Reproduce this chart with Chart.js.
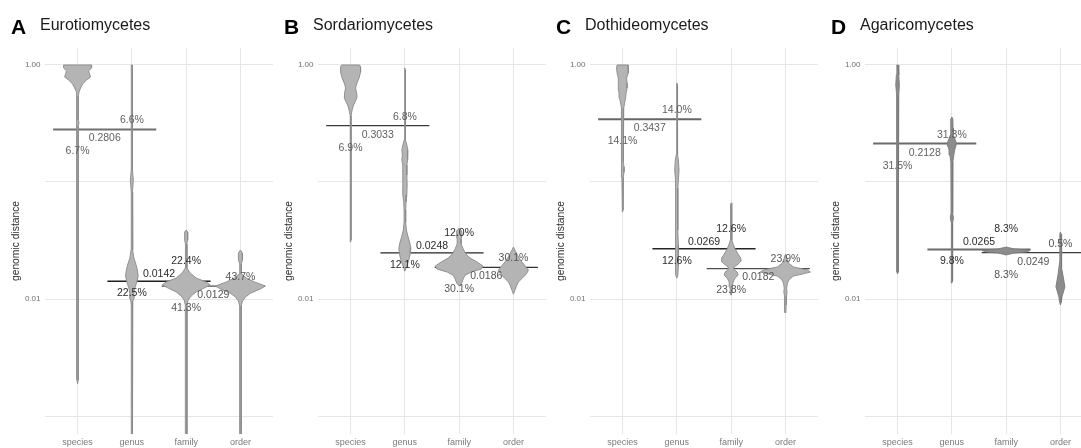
<!DOCTYPE html>
<html>
<head>
<meta charset="utf-8">
<script src="https://cdn.jsdelivr.net/npm/chart.js@4.4.1/dist/chart.umd.min.js"></script>
<style>
html, body { margin: 0; padding: 0; background: #fff; }
body { width: 1081px; height: 448px; overflow: hidden; position: relative; font-family: "Liberation Sans", Arial, sans-serif; }
.panel { position: absolute; top: 0; width: 273px; height: 448px; }
.panel canvas { position: absolute; left: 0; top: 0; }
.tag { position: absolute; left: 11px; top: 15.5px; font-size: 21px; line-height: 21px; font-weight: bold; color: #000; }
.ttl { position: absolute; left: 40px; top: 17px; font-size: 16px; line-height: 16px; color: #1a1a1a; white-space: nowrap; }
</style>
</head>
<body>
<script>
const FONT = '"Liberation Sans", Arial, sans-serif';

// Axis content
const categories = ['species', 'genus', 'family', 'order'];
const panelTags = ['A', 'B', 'C', 'D'];
const panelTitles = ['Eurotiomycetes', 'Sordariomycetes', 'Dothideomycetes', 'Agaricomycetes'];
const yTickValues = [0.001, 0.01, 0.1, 1];
const yTickLabels = ['', '0.01', '', '1.00'];

// Cut-off between neighbouring ranks + share of pairs on the wrong side
const cutoffsA = [0.2806, 0.0142, 0.0129];
const upperPctA = ['6.6%', '22.4%', '43.7%'];
const lowerPctA = ['6.7%', '22.5%', '41.3%'];
const cutoffsB = [0.3033, 0.0248, 0.0186];
const upperPctB = ['6.8%', '12.0%', '30.1%'];
const lowerPctB = ['6.9%', '12.1%', '30.1%'];
const cutoffsC = [0.3437, 0.0269, 0.0182];
const upperPctC = ['14.0%', '12.6%', '23.9%'];
const lowerPctC = ['14.1%', '12.6%', '23.8%'];
const cutoffsD = [0.2128, 0.0265, 0.0249];
const upperPctD = ['31.3%', '8.3%', '0.5%'];
const lowerPctD = ['31.5%', '9.8%', '8.3%'];

// Violin outlines: [genomic distance, relative half width], top to bottom
const speciesA = [[1.0,14],[0.943,14],[0.889,11],[0.838,12],[0.790,13],[0.744,9],[0.688,5],[0.636,3],[0.588,1.5],[0.543,0.7],[0.339,0.6],[0.319,1.5],[0.301,0.6],[0.00203,0.6],[0.00188,0]];
const genusA = [[1.0,0.6],[0.1266,0.6],[0.104,1.5],[0.0821,0.6],[0.0262,0.8],[0.0224,2],[0.0199,4],[0.0177,5.5],[0.0157,6.3],[0.0140,5],[0.0124,3],[0.0112,2],[0.0104,2.5],[0.0096,1],[0.0087,0.6],[0.0006,0.6]];
const familyA = [[0.0389,0],[0.0374,1.5],[0.0319,1.5],[0.0295,0.7],[0.0184,0.8],[0.0167,4],[0.0151,10],[0.0140,20],[0.0132,24],[0.0124,18],[0.0115,10],[0.0106,5],[0.0098,2],[0.0089,0.8],[0.0006,0.8]];
const orderA = [[0.0262,0],[0.0247,2],[0.0215,2],[0.0199,0.7],[0.0164,1],[0.0151,6],[0.0140,14],[0.0129,25],[0.0122,20],[0.0112,10],[0.0104,5],[0.0096,2],[0.0087,0.8],[0.0006,0.8]];

const speciesB = [[1.0,9],[0.961,10],[0.871,10],[0.774,8.5],[0.688,6],[0.636,5],[0.576,6],[0.533,6.5],[0.492,5],[0.455,3],[0.412,1.5],[0.367,0.5],[0.0319,0.5],[0.0307,0]];
const genusB = [[0.943,0],[0.906,0.5],[0.2286,0.6],[0.2071,2],[0.1877,3],[0.1701,2.5],[0.1542,3],[0.1398,2],[0.1148,2],[0.0943,2.3],[0.0774,2],[0.0675,1.2],[0.0576,0.8],[0.0455,0.8],[0.0389,1.5],[0.0346,3],[0.0301,5],[0.0273,6],[0.0247,5.5],[0.0224,4.5],[0.0203,3],[0.0188,1.5],[0.0173,0]];
const familyB = [[0.0404,0],[0.0381,2.5],[0.0352,3],[0.0326,2],[0.0295,2],[0.0268,4],[0.0242,7],[0.0224,11],[0.0207,18],[0.0191,24],[0.0180,22],[0.0170,12],[0.0160,6],[0.0148,4],[0.0137,2.5],[0.0129,0]];
const orderB = [[0.0278,0],[0.0262,1.5],[0.0238,4],[0.0215,7],[0.0195,11],[0.0177,15],[0.0164,13],[0.0151,9],[0.0140,5],[0.0129,3],[0.0119,1.5],[0.0110,0]];

const speciesC = [[1.0,5.5],[0.943,6],[0.854,5.5],[0.774,4],[0.702,4.5],[0.636,4.5],[0.576,3.5],[0.522,3],[0.473,2],[0.429,1.2],[0.374,0.7],[0.1483,0.7],[0.1343,1.5],[0.1217,1.5],[0.1103,0.7],[0.0576,0.5],[0.0554,0]];
const genusC = [[0.702,0],[0.675,0.6],[0.1701,0.7],[0.1542,1.5],[0.1266,2.2],[0.104,1.5],[0.0888,1],[0.0389,1],[0.0289,1.5],[0.0195,1.5],[0.0160,1],[0.0151,0]];
const familyC = [[0.0662,0],[0.0623,0.6],[0.0319,0.8],[0.0295,2],[0.0268,4],[0.0242,7],[0.0224,9.5],[0.0211,10],[0.0199,7],[0.0188,3],[0.0180,2.5],[0.0170,6],[0.0160,7],[0.0151,4],[0.0140,2],[0.0127,1.2],[0.0115,0.8],[0.0108,0]];
const orderC = [[0.0242,0],[0.0224,1.2],[0.0203,3],[0.0188,8],[0.0177,22],[0.0170,25],[0.0164,18],[0.0157,8],[0.0148,4],[0.0137,2],[0.0124,1.2],[0.0115,1.6],[0.0106,1.2],[0.0089,0.7],[0.0077,0.5],[0.0076,0]];

const speciesD = [[1.0,0.7],[0.821,1.2],[0.675,1.8],[0.554,1.2],[0.455,0.7],[0.0170,0.6],[0.0164,0]];
const genusD = [[0.3594,0],[0.3455,1],[0.2894,1.2],[0.2522,1.5],[0.2331,3],[0.2154,4.5],[0.2031,4],[0.1877,2.8],[0.1701,2],[0.1483,1],[0.0543,0.8],[0.0492,1.6],[0.0446,0.8],[0.01425,0.7],[0.0137,0]];
const familyD = [[0.0278,0],[0.0268,8],[0.0260,24],[0.0252,20],[0.0247,8],[0.0238,0]];
const orderD = [[0.0374,0],[0.0359,0.6],[0.0207,0.8],[0.0184,1.5],[0.0160,2.5],[0.01425,3.5],[0.0127,4.5],[0.0115,3],[0.0104,1.5],[0.0094,0.8],[0.0089,0]];

const panels = [
    { violins: [speciesA, genusA, familyA, orderA], cutoffs: cutoffsA, upper: upperPctA, lower: lowerPctA },
    { violins: [speciesB, genusB, familyB, orderB], cutoffs: cutoffsB, upper: upperPctB, lower: lowerPctB },
    { violins: [speciesC, genusC, familyC, orderC], cutoffs: cutoffsC, upper: upperPctC, lower: lowerPctC },
    { violins: [speciesD, genusD, familyD, orderD], cutoffs: cutoffsD, upper: upperPctD, lower: lowerPctD }
];

// Looks
const WIDTH_UNIT = 1 / 54.3;      // relative width -> category units
const CUT_OVERHANG = 0.45;        // cut-off segment runs past both ranks
const LABEL_OFFSETS = [
    { upper: -9, mid: 9, lower: 22 },
    { upper: -20, mid: -7, lower: 12 },
    { upper: -9, mid: 9, lower: 22 }
];
const LABEL_COLORS = ['#5f5f5f', '#2b2b2b', '#555555'];
const PANEL_STYLE = [
    { left: 0,   fill: '#b4b4b4', edge: '#8a8a8a', lineColors: ['#6f6f6f', '#1f1f1f', '#4d4d4d'], lineWidths: [2, 1.5, 1.2] },
    { left: 273, fill: '#b4b4b4', edge: '#8a8a8a', lineColors: ['#3a3a3a', '#262626', '#333333'], lineWidths: [1.2, 1.3, 1.2] },
    { left: 545, fill: '#b4b4b4', edge: '#8a8a8a', lineColors: ['#666666', '#262626', '#4d4d4d'], lineWidths: [2, 1.5, 1.2] },
    { left: 820, fill: '#8c8c8c', edge: '#7a7a7a', lineColors: ['#6b6b6b', '#6b6b6b', '#3d3d3d'], lineWidths: [2, 2, 1.2] }
];

Chart.defaults.font.family = FONT;

function violinPoints(profile, pos) {
    const right = profile.map(([v, w]) => ({ x: pos + w * WIDTH_UNIT, y: v }));
    const left = profile.slice().reverse().map(([v, w]) => ({ x: pos - w * WIDTH_UNIT, y: v }));
    return right.concat(left, [right[0]]);
}

// text next to each cut-off line
const cutoffLabels = {
    id: 'cutoffLabels',
    afterDatasetsDraw(chart, args, opts) {
        const { ctx, scales: { x, y } } = chart;
        ctx.save();
        ctx.font = '10.5px ' + FONT;
        ctx.textAlign = 'center';
        ctx.textBaseline = 'middle';
        opts.cutoffs.forEach((v, k) => {
            const py = y.getPixelForValue(v);
            const off = LABEL_OFFSETS[k];
            ctx.fillStyle = LABEL_COLORS[k];
            ctx.fillText(opts.upper[k], x.getPixelForValue(k + 2), py + off.upper);
            ctx.fillText(v.toFixed(4), x.getPixelForValue(k + 1.5), py + off.mid);
            ctx.fillText(opts.lower[k], x.getPixelForValue(k + 1), py + off.lower);
        });
        ctx.restore();
    }
};

function makePanel(i) {
    const p = panels[i];
    const st = PANEL_STYLE[i];

    const wrap = document.createElement('div');
    wrap.className = 'panel';
    wrap.style.left = st.left + 'px';
    const canvas = document.createElement('canvas');
    canvas.width = 273;
    canvas.height = 448;
    wrap.appendChild(canvas);
    const tag = document.createElement('div');
    tag.className = 'tag';
    tag.textContent = panelTags[i];
    const ttl = document.createElement('div');
    ttl.className = 'ttl';
    ttl.textContent = panelTitles[i];
    wrap.appendChild(tag);
    wrap.appendChild(ttl);
    document.body.appendChild(wrap);

    const datasets = [];
    p.violins.forEach((prof, k) => {
        datasets.push({
            data: violinPoints(prof, k + 1),
            showLine: true,
            fill: 'shape',
            backgroundColor: st.fill,
            borderColor: st.edge,
            borderWidth: 0.9,
            pointRadius: 0,
            tension: 0
        });
    });
    p.cutoffs.forEach((v, k) => {
        datasets.push({
            data: [{ x: k + 1 - CUT_OVERHANG, y: v }, { x: k + 2 + CUT_OVERHANG, y: v }],
            showLine: true,
            fill: false,
            borderColor: st.lineColors[k],
            borderWidth: st.lineWidths[k],
            pointRadius: 0
        });
    });

    new Chart(canvas.getContext('2d'), {
        type: 'scatter',
        data: { datasets },
        plugins: [cutoffLabels],
        options: {
            responsive: false,
            animation: false,
            layout: { padding: { top: 48, left: 0, right: 0, bottom: 0 } },
            plugins: {
                legend: { display: false },
                tooltip: { enabled: false },
                cutoffLabels: { cutoffs: p.cutoffs, upper: p.upper, lower: p.lower }
            },
            scales: {
                x: {
                    type: 'linear',
                    min: 0.4,
                    max: 4.6,
                    afterBuildTicks: s => { s.ticks = categories.map((c, k) => ({ value: k + 1 })); },
                    afterFit: s => { s.height = 14; },
                    ticks: {
                        callback: v => categories[v - 1] || '',
                        font: { size: 9 },
                        color: '#7a7a7a',
                        padding: 3,
                        maxRotation: 0,
                        autoSkip: false
                    },
                    grid: { color: '#e6e6e6', drawTicks: false },
                    border: { display: false }
                },
                y: {
                    type: 'logarithmic',
                    min: 0.000702,
                    max: 1.397,
                    afterBuildTicks: s => { s.ticks = yTickValues.map(v => ({ value: v })); },
                    afterFit: s => { s.width = 45; },
                    ticks: {
                        callback: (v, idx) => yTickLabels[idx],
                        font: { size: 8 },
                        color: '#6e6e6e',
                        padding: 4.5,
                        autoSkip: false
                    },
                    title: {
                        display: true,
                        text: 'genomic distance',
                        font: { size: 10.3 },
                        color: '#2e2e2e',
                        padding: { top: 9.8, bottom: 0 }
                    },
                    grid: { color: '#e6e6e6', drawTicks: false },
                    border: { display: false }
                }
            }
        }
    });
}

panels.forEach((p, i) => makePanel(i));
</script>
</body>
</html>
